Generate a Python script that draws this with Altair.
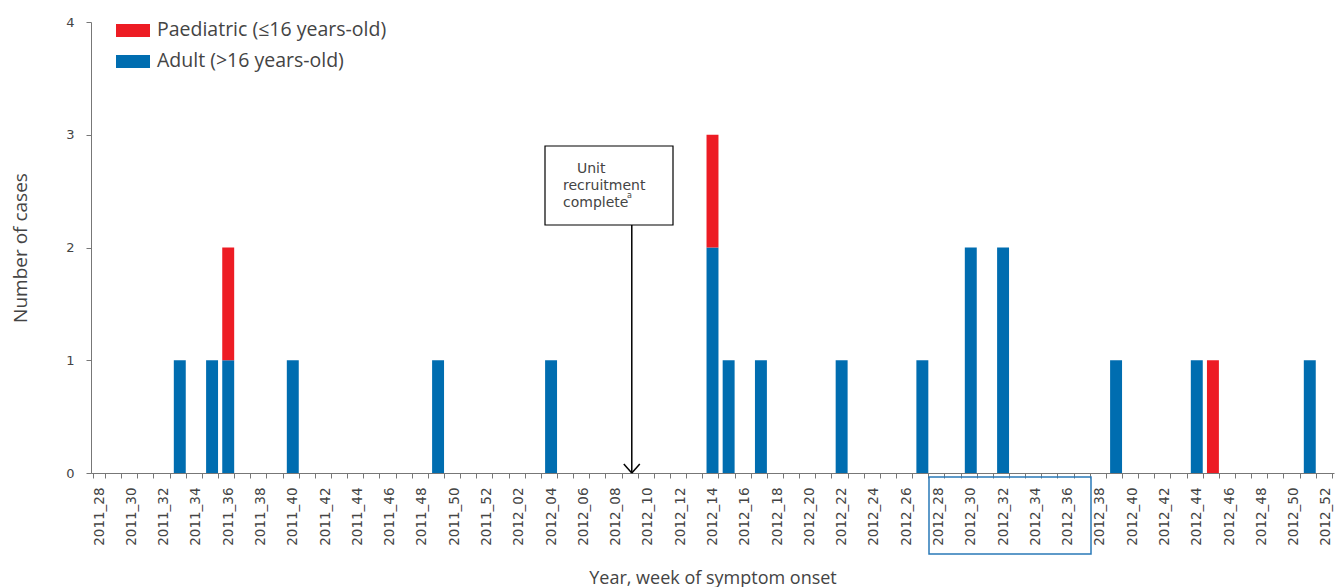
import altair as alt
import json
import pandas as pd

# Weekly categories, 2011 week 28 through 2012 week 52
weeks = [f"2011_{w:02d}" for w in range(28, 53)] + [f"2012_{w:02d}" for w in range(1, 53)]
# every second week carries a tick label
labelled_weeks = weeks[::2]

groups = ["Paediatric (≤16 years-old)", "Adult (>16 years-old)"]
group_colors = ["#ED1C24", "#006DB0"]

# Weeks with cases and counts per age group
case_weeks = ["2011_33", "2011_35", "2011_36", "2011_40", "2011_49", "2012_04",
              "2012_14", "2012_15", "2012_17", "2012_22", "2012_27", "2012_30",
              "2012_32", "2012_39", "2012_44", "2012_45", "2012_51"]
adult_cases = [1, 1, 1, 1, 1, 1, 2, 1, 1, 1, 1, 2, 2, 1, 1, 0, 1]
paed_cases = [0, 0, 1, 0, 0, 0, 1, 0, 0, 0, 0, 0, 0, 0, 0, 1, 0]

rows = []
for wk, a, p in zip(case_weeks, adult_cases, paed_cases):
    rows.append({"week": wk, "group": groups[1], "cases": a, "order": 0})
    rows.append({"week": wk, "group": groups[0], "cases": p, "order": 1})
df = pd.DataFrame(rows)
df = df[df["cases"] > 0].reset_index(drop=True)

marker_week = "2012_09"

FONT = "Open Sans"
LABEL_FONT = "DejaVu Sans"
GREY = "#444444"

x_scale = alt.Scale(domain=weeks, paddingInner=0.26, paddingOuter=0.13)
y_scale = alt.Scale(domain=[0, 4])

label_expr = f"indexof({json.dumps(labelled_weeks)}, datum.value) >= 0 ? datum.label : ''"

bars = alt.Chart(df).mark_bar().encode(
    x=alt.X("week:N", scale=x_scale, sort=weeks,
            axis=alt.Axis(title="Year, week of symptom onset", labelAngle=-90,
                          labelExpr=label_expr,
                          tickBand="extent", labelPadding=9, titlePadding=24,
                          labelFont=LABEL_FONT, labelFontSize=13.5, labelColor=GREY,
                          titleFont=FONT, titleFontSize=18, titleFontWeight="normal",
                          titleColor=GREY, domainColor="#777777", tickColor="#777777",
                          tickSize=5, labelOverlap=False)),
    y=alt.Y("cases:Q", scale=y_scale, stack="zero",
            axis=alt.Axis(title="Number of cases", values=[0, 1, 2, 3, 4], format="d",
                          grid=False, labelFont=LABEL_FONT, labelFontSize=13,
                          labelColor=GREY, labelPadding=12, titleFont=FONT,
                          titleFontSize=19, titleFontWeight="normal", titleColor=GREY,
                          titlePadding=35, domainColor="#777777", tickColor="#777777",
                          tickSize=5)),
    color=alt.Color("group:N", scale=alt.Scale(domain=groups, range=group_colors),
                    legend=None),
    order=alt.Order("order:Q"),
)


def swatch(color, y0, y1):
    return alt.Chart(pd.DataFrame({"k": [0]})).mark_rect(fill=color).encode(
        x=alt.value(25), x2=alt.value(59), y=alt.value(y0), y2=alt.value(y1))


def label(txt, x, y, size, font=FONT):
    return alt.Chart(pd.DataFrame({"t": [txt]})).mark_text(
        font=font, fontSize=size, color=GREY, align="left", baseline="middle"
    ).encode(text="t:N", x=alt.value(x), y=alt.value(y))


# Legend keys drawn in the top-left corner of the plot
legend = alt.layer(
    swatch(group_colors[0], 2, 15), label(groups[0], 66, 8, 19.5),
    swatch(group_colors[1], 33, 46), label(groups[1], 66, 39, 19.5),
)

# Annotation box with arrow pointing at the week recruitment completed
box = alt.Chart(pd.DataFrame({"k": [0]})).mark_rect(
    fill="white", stroke="black", strokeWidth=1.2
).encode(x=alt.value(454), x2=alt.value(582), y=alt.value(124), y2=alt.value(203))

note_lines = alt.layer(
    label("Unit", 486, 147, 14, LABEL_FONT),
    label("recruitment", 472, 164, 14, LABEL_FONT),
    label("complete", 472, 181, 14, LABEL_FONT),
    label("a", 536, 174, 8, LABEL_FONT),
)

arrow_df = pd.DataFrame({"week": [marker_week], "cases": [0]})
arrow_line = alt.Chart(arrow_df).mark_rule(color="black", strokeWidth=1.5).encode(
    x=alt.X("week:N", scale=x_scale, sort=weeks),
    y=alt.Y("cases:Q", scale=y_scale),
    y2=alt.value(203),
)


def arrow_arm(dx):
    # one stroke of the chevron head, from the tip up and outwards
    return alt.Chart(arrow_df).mark_rule(
        color="black", strokeWidth=1.5, x2Offset=dx, y2Offset=-9
    ).encode(
        x=alt.X("week:N", scale=x_scale, sort=weeks),
        x2=alt.X2("week:N"),
        y=alt.Y("cases:Q", scale=y_scale),
        y2=alt.Y2("cases:Q"),
    )


# Outline around a run of week labels on the time axis
hl = alt.Chart(pd.DataFrame({"k": [0]})).mark_rect(
    fill="white", fillOpacity=0, stroke="#2A7AB8", strokeWidth=1.5
).encode(x=alt.value(838), x2=alt.value(1000), y=alt.value(455), y2=alt.value(532))

chart = alt.layer(
    bars, legend, box, note_lines, arrow_line, arrow_arm(-8), arrow_arm(8), hl
).properties(
    width=1243, height=451,
    autosize=alt.AutoSizeParams(type="none"),
    padding={"left": 91, "top": 22, "right": 2, "bottom": 114},
    background="white",
).configure_view(stroke=None)

chart.save("out.html", embed_options={"renderer": "svg", "actions": False})
